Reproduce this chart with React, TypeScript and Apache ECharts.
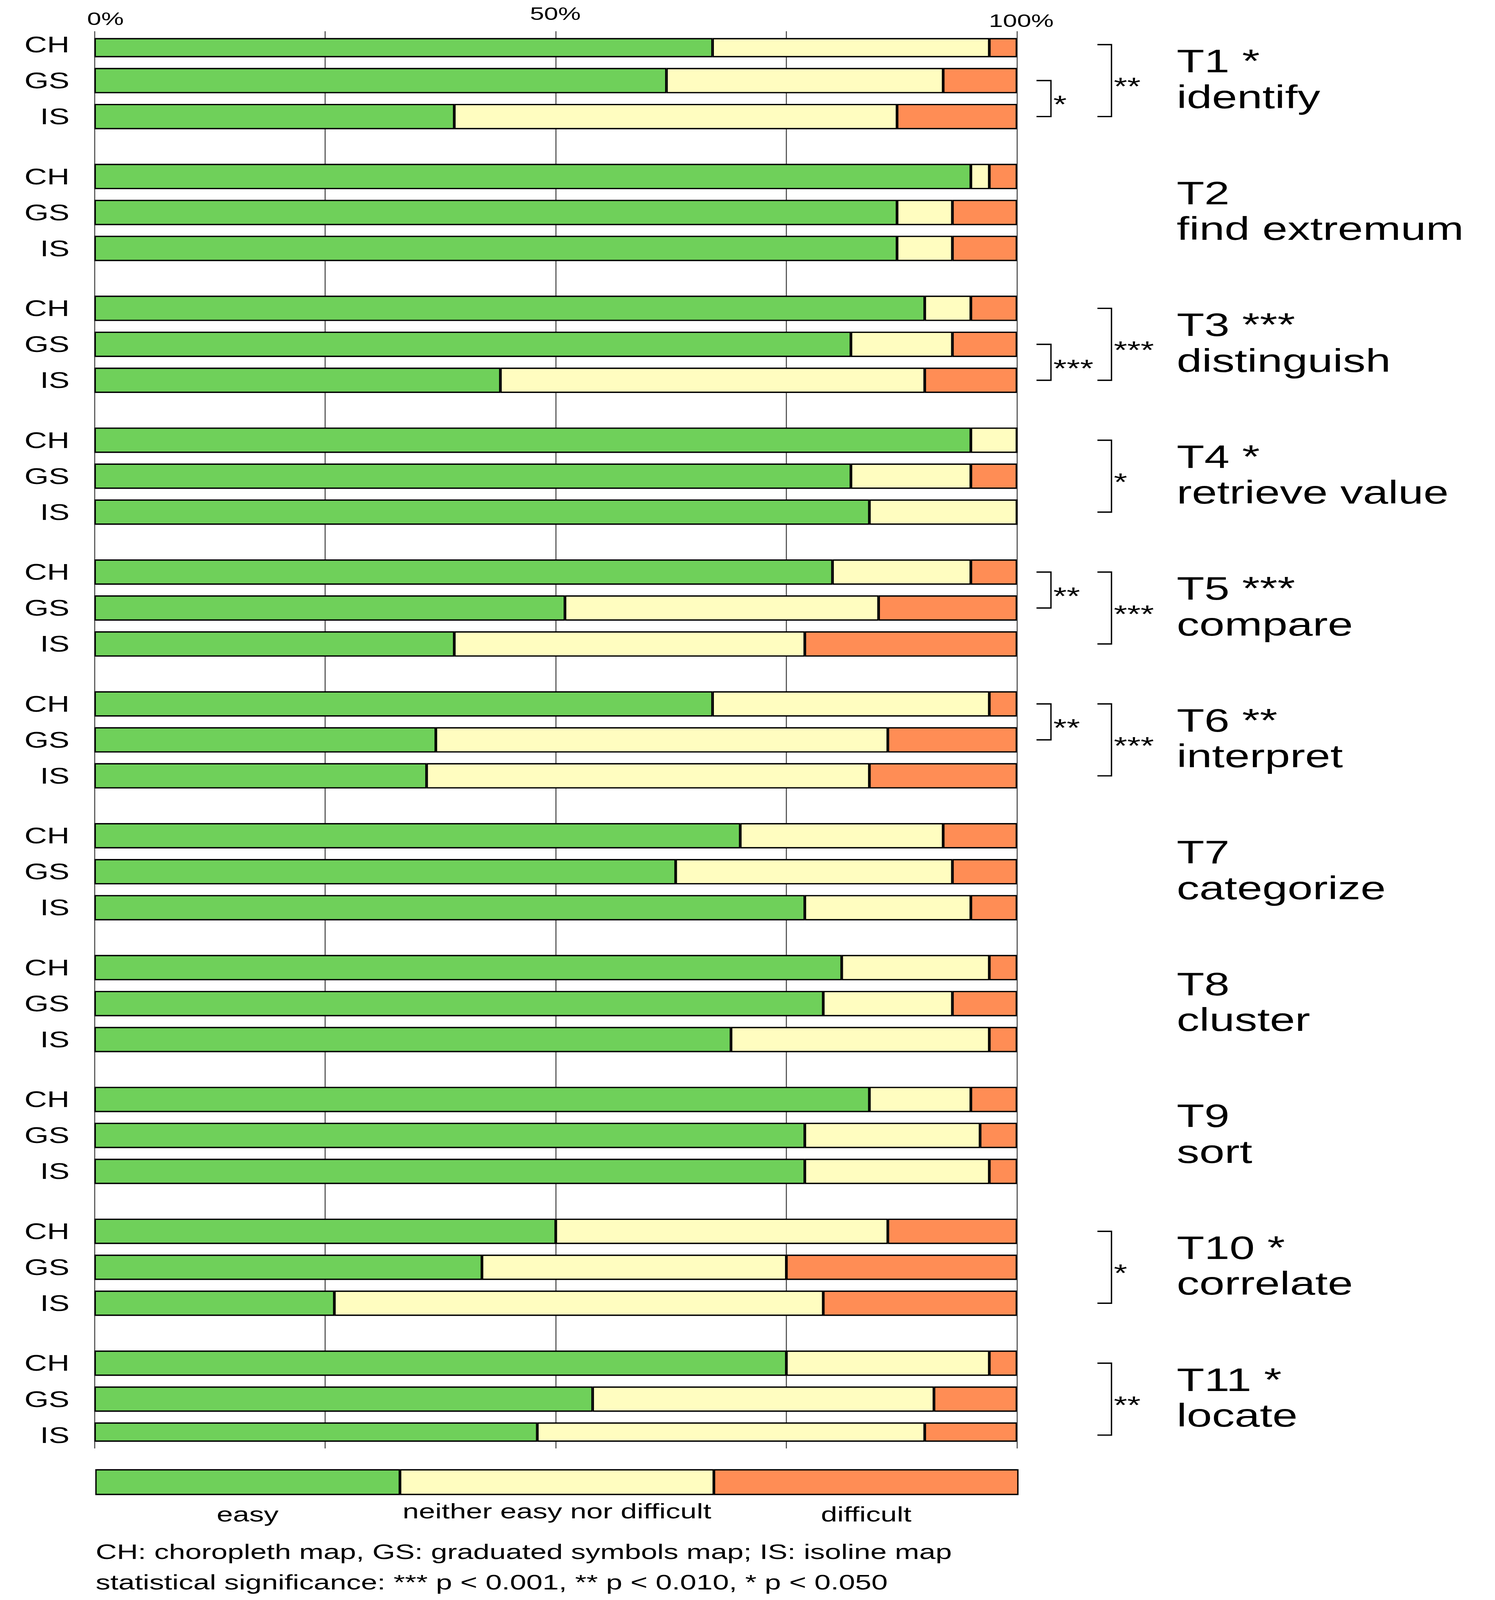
import React, { useEffect, useRef } from 'react';
import * as echarts from 'echarts';

// ---------- data ----------
const tasks = ['T1', 'T2', 'T3', 'T4', 'T5', 'T6', 'T7', 'T8', 'T9', 'T10', 'T11'];
const taskStars = ['*', '', '***', '*', '***', '**', '', '', '', '*', '*'];
const taskNames = ['identify', 'find extremum', 'distinguish', 'retrieve value', 'compare', 'interpret', 'categorize', 'cluster', 'sort', 'correlate', 'locate'];
const maps = ['CH', 'GS', 'IS'];

// percentages per task: [CH, GS, IS]
const easy = [[67, 62, 39], [95, 87, 87], [90, 82, 44], [95, 82, 84], [80, 51, 39], [67, 37, 36], [70, 63, 77], [81, 79, 69], [84, 77, 77], [50, 42, 26], [75, 54, 48]];
const neither = [[30, 30, 48], [2, 6, 6], [5, 11, 46], [5, 13, 16], [15, 34, 38], [30, 49, 48], [22, 30, 18], [16, 14, 28], [11, 19, 20], [36, 33, 53], [22, 37, 42]];
const difficult = [[3, 8, 13], [3, 7, 7], [5, 7, 10], [0, 5, 0], [5, 15, 23], [3, 14, 16], [8, 7, 5], [3, 7, 3], [5, 4, 3], [14, 25, 21], [3, 9, 10]];

// significance brackets: task index, from map, to map, tier (0 = inner, 1 = outer), stars
const brackets = [
  { task: 0, from: 1, to: 2, tier: 0, stars: '*' },
  { task: 0, from: 0, to: 2, tier: 1, stars: '**' },
  { task: 2, from: 1, to: 2, tier: 0, stars: '***' },
  { task: 2, from: 0, to: 2, tier: 1, stars: '***' },
  { task: 3, from: 0, to: 2, tier: 1, stars: '*' },
  { task: 4, from: 0, to: 1, tier: 0, stars: '**' },
  { task: 4, from: 0, to: 2, tier: 1, stars: '***' },
  { task: 5, from: 0, to: 1, tier: 0, stars: '**' },
  { task: 5, from: 0, to: 2, tier: 1, stars: '***' },
  { task: 9, from: 0, to: 2, tier: 1, stars: '*' },
  { task: 10, from: 0, to: 2, tier: 1, stars: '**' },
];

const topTickValues = [0, 50, 100];
const topTickLabels = ['0%', '50%', '100%'];

const legendNames = ['easy', 'neither easy nor difficult', 'difficult'];
const legendShares = [33, 34, 33];

const notes = [
  'CH: choropleth map, GS: graduated symbols map; IS: isoline map',
  'statistical significance: *** p < 0.001, ** p < 0.010, * p < 0.050',
];

// ---------- styling ----------
const GREEN = '#6fd05a';
const YELLOW = '#fffdc0';
const ORANGE = '#ff8d55';
const FONT = 'Liberation Sans, Arial, Helvetica, sans-serif';

const REF_W = 3828;
const REF_H = 5734;
const SLOTS_PER_TASK = 11; // 3 bars at slots 0,3,6 then gap
const SLOT_STEP = 3;

export default function App() {
  const ref = useRef<HTMLDivElement>(null);

  useEffect(() => {
    const el = ref.current!;
    const W = window.innerWidth || REF_W;
    const H = window.innerHeight || REF_H;
    el.style.width = W + 'px';
    el.style.height = H + 'px';
    const sx = W / REF_W;
    const sy = H / REF_H;
    const k = sx / sy; // horizontal text stretch so texts keep the reference proportions
    const X = (v: number) => v * sx;
    const Y = (v: number) => v * sy;
    const lw = (v: number) => v * (sx + sy) / 2;

    const chart = echarts.init(el, null, { renderer: 'svg' });

    const nCat = SLOTS_PER_TASK * (tasks.length - 1) + SLOT_STEP * (maps.length - 1) + 1;
    const cats: string[] = [];
    const easyData: any[] = [];
    const neitherData: any[] = [];
    const diffData: any[] = [];
    for (let i = 0; i < nCat; i++) {
      cats.push('gap' + i);
      easyData.push('-');
      neitherData.push('-');
      diffData.push('-');
    }
    tasks.forEach((t, ti) => {
      maps.forEach((m, mi) => {
        const idx = ti * SLOTS_PER_TASK + mi * SLOT_STEP;
        cats[idx] = t + '-' + m;
        easyData[idx] = easy[ti][mi];
        neitherData[idx] = neither[ti][mi];
        diffData[idx] = difficult[ti][mi];
      });
    });

    const bw = lw(4);
    const barStyle = (c: string) => ({ color: c, borderColor: '#000', borderWidth: bw });
    const legendColors = [GREEN, YELLOW, ORANGE];

    const option: any = {
      animation: false,
      backgroundColor: '#ffffff',
      grid: [
        { left: X(242), width: X(2362), top: Y(138.5), height: Y(5026) },
        { left: X(242), width: X(2362), top: Y(112), height: Y(5079) },
        { left: X(244), width: X(2364), top: Y(5263), height: Y(97) },
      ],
      xAxis: [
        { type: 'value', gridIndex: 0, min: 0, max: 100, show: false },
        {
          type: 'value', gridIndex: 1, min: 0, max: 100, interval: 25, position: 'top',
          axisLine: { show: false }, axisTick: { show: false }, axisLabel: { show: false },
          splitLine: { show: true, lineStyle: { color: '#5c5c5c', width: X(3) } },
        },
        { type: 'value', gridIndex: 2, min: 0, max: 100, show: false },
      ],
      yAxis: [
        {
          type: 'category', gridIndex: 0, data: cats, inverse: true,
          axisLine: { show: false }, axisTick: { show: false }, splitLine: { show: false },
          axisLabel: { show: false },
        },
        { type: 'value', gridIndex: 1, min: 0, max: 1, show: false },
        { type: 'category', gridIndex: 2, data: ['legend'], show: false },
      ],
      series: [
        { name: 'easy', type: 'bar', stack: 'a', xAxisIndex: 0, yAxisIndex: 0, barWidth: Y(91), data: easyData, itemStyle: barStyle(GREEN) },
        { name: 'neither easy nor difficult', type: 'bar', stack: 'a', xAxisIndex: 0, yAxisIndex: 0, barWidth: Y(91), data: neitherData, itemStyle: barStyle(YELLOW) },
        { name: 'difficult', type: 'bar', stack: 'a', xAxisIndex: 0, yAxisIndex: 0, barWidth: Y(91), data: diffData, itemStyle: barStyle(ORANGE) },
        ...legendNames.map((n, i) => ({
          name: 'legend-' + n, type: 'bar', stack: 'leg', xAxisIndex: 2, yAxisIndex: 2, barWidth: Y(93),
          data: [legendShares[i]], itemStyle: barStyle(legendColors[i]),
        })),
      ],
    };

    chart.setOption(option);

    const txt = (text: string, x: number, y: number, fs: number, align: string, extra: any = {}) => ({
      type: 'text', x, y, scaleX: k, scaleY: 1, z: 10,
      style: { text, fontSize: Y(fs), fontFamily: FONT, fill: '#000', align, verticalAlign: 'middle', ...extra },
    });
    const catY = (idx: number) => chart.convertToPixel({ yAxisIndex: 0 }, idx) as number;
    const left = chart.convertToPixel({ xAxisIndex: 0 }, 0) as number;
    const right = chart.convertToPixel({ xAxisIndex: 0 }, 100) as number;
    const graphics: any[] = [];

    // row labels and task titles
    tasks.forEach((t, ti) => {
      maps.forEach((m, mi) => {
        const cy = catY(ti * SLOTS_PER_TASK + mi * SLOT_STEP);
        graphics.push(txt(m, left - X(64), cy, 80, 'right'));
        if (mi === 1) {
          const title = t + (taskStars[ti] ? ' ' + taskStars[ti] : '') + '\n' + taskNames[ti];
          graphics.push(txt(title, right + X(409), cy - Y(6), 116, 'left', { lineHeight: Y(128) }));
        }
      });
    });

    // top tick labels (0%, 50%, 100%)
    const tickDx = [28, -1, 11];
    const tickBase = [90, 72, 97];
    topTickValues.forEach((v, i) => {
      const px = chart.convertToPixel({ xAxisIndex: 1 }, v) as number;
      graphics.push(txt(topTickLabels[i], px + X(tickDx[i]), Y(tickBase[i] - 22.5), 65, 'center'));
    });

    // significance brackets
    const tierX = [[right + X(50), right + X(87)], [right + X(206), right + X(242)]];
    brackets.forEach((b) => {
      const yTop = catY(b.task * SLOTS_PER_TASK + b.from * SLOT_STEP);
      const yBot = catY(b.task * SLOTS_PER_TASK + b.to * SLOT_STEP);
      const [x0, x1] = tierX[b.tier];
      graphics.push({
        type: 'polyline',
        shape: { points: [[x0, yTop], [x1, yTop], [x1, yBot], [x0, yBot]] },
        style: { stroke: '#000', lineWidth: lw(4), fill: null },
      });
      graphics.push(txt(b.stars, x1 + X(6), (yTop + yBot) / 2 + Y(20), 88, 'left'));
    });

    // legend labels under the legend bar
    const legBase = [5453, 5442, 5453];
    let acc = 0;
    legendShares.forEach((s, i) => {
      const mid = chart.convertToPixel({ xAxisIndex: 2 }, acc + s / 2) as number;
      acc += s;
      graphics.push(txt(legendNames[i], mid, Y(legBase[i] - 26), 75, 'center'));
    });

    // notes
    const noteBase = [5587, 5697];
    notes.forEach((t, i) => {
      graphics.push(txt(t, X(245), Y(noteBase[i] - 26), 75, 'left'));
    });

    chart.setOption({ graphic: graphics });

    return () => chart.dispose();
  }, []);

  return (
    <div
      ref={ref}
      style={{ position: 'absolute', left: 0, top: 0, width: REF_W, height: REF_H, background: '#fff' }}
    />
  );
}
